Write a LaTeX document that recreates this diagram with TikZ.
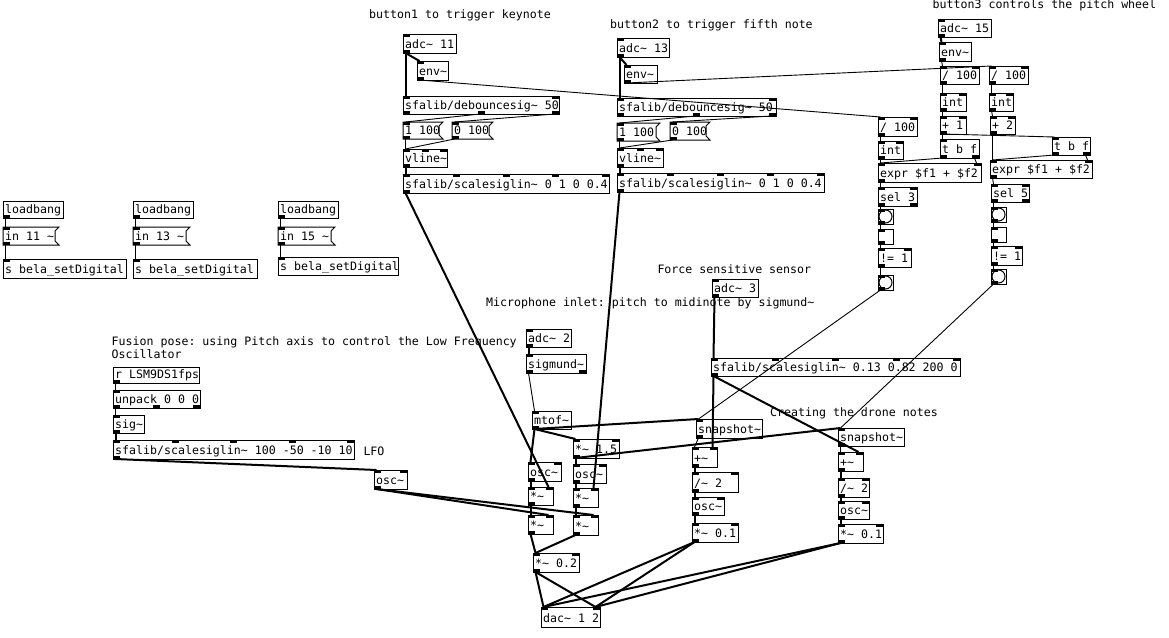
\documentclass[tikz,border=0pt]{standalone}
\usepackage{fontspec}
\setmonofont{DejaVu Sans Mono}
\newcommand\pdt{\textasciitilde{}}
\newcommand\pdfont{\ttfamily\fontsize{11.6}{12}\selectfont}
\tikzset{
  box/.style={draw=black, line width=1pt},
  txt/.style={inner sep=0pt, anchor=base west, font=\pdfont, text=black},
  sig/.style={line width=2pt, draw=black},
  ctl/.style={line width=0.9pt, draw=black},
}
% one iolet
\newcommand\pdonei[5]{% name, x, y, i/o, k
  \if#4i
    \fill (#2,#3) rectangle ++(7,3);
    \coordinate (#1-i#5) at (#2+2.5,#3);
  \else
    \fill (#2,#3) rectangle ++(7,-3);
    \coordinate (#1-o#5) at (#2+2.5,#3);
  \fi
}
% row of iolets
\newcommand\pdiol[6]{% name, x1, x2, y, n, i/o
  \ifnum#5=1
    \pdonei{#1}{#2}{#4}{#6}{1}%
  \else\ifnum#5>1
    \foreach \k in {1,...,#5}{%
      \pgfmathsetmacro\xx{#2+(\k-1)*(#3-#2-7)/(#5-1)}%
      \pdonei{#1}{\xx}{#4}{#6}{\k}%
    }%
  \fi\fi
}
\newcommand\pdobj[8]{% name x1 y1 x2 y2 text nin nout
  \draw[box] (#2,#3) rectangle (#4,#5);
  \node[txt] (#1) at (#2+2,#5-4.8) {#6};
  \pdiol{#1}{#2}{#4}{#3}{#7}{i}%
  \pdiol{#1}{#2}{#4}{#5}{#8}{o}%
}
\newcommand\pdmsg[6]{% name x1 y1 x2 y2 text
  \draw[box] (#2,#3) -- (#4,#3) -- (#4-4,#3+4) -- (#4-4,#5-4) -- (#4,#5) -- (#2,#5) -- cycle;
  \node[txt] (#1) at (#2+2,#5-4.8) {#6};
  \pdiol{#1}{#2}{#4}{#3}{1}{i}%
  \pdiol{#1}{#2}{#4}{#5}{1}{o}%
}
\newcommand\pdbng[4]{% name x y y+15
  \draw[box] (#2,#3) rectangle (#2+15,#4);
  \draw[box] (#2+7.5,#3+7.5) circle[radius=6.5pt];
  \pdiol{#1}{#2}{#2+15}{#3}{1}{i}%
  \pdiol{#1}{#2}{#2+15}{#4}{1}{o}%
}
\newcommand\pdtgl[4]{% name x y y+15
  \draw[box] (#2,#3) rectangle (#2+15,#4);
  \pdiol{#1}{#2}{#2+15}{#3}{1}{i}%
  \pdiol{#1}{#2}{#2+15}{#4}{1}{o}%
}
\begin{document}
\begin{tikzpicture}[x=1pt,y=-1pt]
\fill[white] (0,0) rectangle (1169,637);
\useasboundingbox (0,0) rectangle (1169,637);

% ---------- comments ----------
\node[txt] (c1) at (369,18.5) {button1 to trigger keynote};
\node[txt] (c2) at (610,28.3) {button2 to trigger fifth note};
\node[txt] (c3) at (932.5,9) {button3 controls the pitch wheel};
\node[txt] (c4) at (657.3,273.5) {Force sensitive sensor};
\node[txt] (c5) at (486,306.5) {Microphone inlet: pitch to midinote by sigmund\pdt};
\node[txt] (c6) at (111.5,345.5) {Fusion pose: using Pitch axis to control the Low Frequency};
\node[txt] (c7) at (111.5,358) {Oscillator};
\node[txt] (c8) at (363.3,455.5) {LFO};
\node[txt] (c9) at (770,416) {Creating the drone notes};

% ---------- button 1 ----------
\pdobj{adcA}{403}{34}{456}{53}{adc\pdt{} 11}{1}{1}
\pdobj{envA}{417}{61}{448}{80}{env\pdt}{1}{1}
\pdobj{debA}{403}{96}{559}{114}{sfalib/debouncesig\pdt{} 50}{2}{3}
\pdmsg{msgA1}{403}{122}{443}{139}{1 100}
\pdmsg{msgA0}{452}{122}{493}{139}{0 100}
\pdobj{vlineA}{403}{149}{447}{167}{vline\pdt}{3}{1}
\pdobj{sclA}{403}{174}{609}{193}{sfalib/scalesiglin\pdt{} 0 1 0 0.4}{5}{1}

% ---------- button 2 ----------
\pdobj{adcB}{617}{38}{669}{57}{adc\pdt{} 13}{1}{1}
\pdobj{envB}{624}{65}{657}{83}{env\pdt}{1}{1}
\pdobj{debB}{617}{98}{776}{116}{sfalib/debouncesig\pdt{} 50}{2}{3}
\pdmsg{msgB1}{617}{123}{660}{141}{1 100}
\pdmsg{msgB0}{670}{122}{710}{140}{0 100}
\pdobj{vlineB}{617}{148}{663}{167}{vline\pdt}{3}{1}
\pdobj{sclB}{617}{173}{824}{192}{sfalib/scalesiglin\pdt{} 0 1 0 0.4}{5}{1}

% ---------- button 3 ----------
\pdobj{adcC}{938}{19}{991}{37}{adc\pdt{} 15}{1}{1}
\pdobj{envC}{939}{42}{971}{61}{env\pdt}{1}{1}
\pdobj{divA}{940}{66}{979}{84}{/ 100}{2}{1}
\pdobj{divB}{989}{66}{1028}{84}{/ 100}{2}{1}
\pdobj{intA}{940}{93}{966}{111}{int}{2}{1}
\pdobj{intB}{989}{93}{1013}{111}{int}{2}{1}
\pdobj{addA}{940}{116}{966}{134}{+ 1}{2}{1}
\pdobj{addB}{990}{116}{1015}{134}{+ 2}{2}{1}
\pdobj{tbfA}{940}{139}{979}{158}{t b f}{1}{2}
\pdobj{tbfB}{1052}{137}{1090}{155}{t b f}{1}{2}
\pdobj{divC}{878}{117}{917}{136}{/ 100}{2}{1}
\pdobj{intC}{878}{141}{903}{159}{int}{2}{1}
\pdobj{exprA}{878}{163}{981}{182}{expr \$f1 + \$f2}{2}{1}
\pdobj{exprB}{990}{160}{1092}{178}{expr \$f1 + \$f2}{2}{1}
\pdobj{selA}{878}{187}{917}{206}{sel 3}{2}{2}
\pdobj{selB}{991}{184}{1029}{202}{sel 5}{2}{2}
\pdbng{bngA}{878}{209}{224}
\pdtgl{tglA}{878}{229}{244}
\pdobj{neA}{878}{248}{911}{267}{!= 1}{2}{1}
\pdbng{bngA2}{878}{275}{290}
\pdbng{bngB}{991}{207}{222}
\pdtgl{tglB}{991}{227}{242}
\pdobj{neB}{991}{246}{1022}{265}{!= 1}{2}{1}
\pdbng{bngB2}{991}{269}{284}

% ---------- loadbangs ----------
\pdobj{lb1}{3}{201}{63}{218}{loadbang}{0}{1}
\pdmsg{in1}{3}{227}{59}{245}{in 11 \pdt}
\pdobj{s1}{3}{259}{126}{278}{s bela\_setDigital}{1}{0}
\pdobj{lb2}{133}{201}{193}{218}{loadbang}{0}{1}
\pdmsg{in2}{133}{227}{190}{245}{in 13 \pdt}
\pdobj{s2}{133}{259}{257}{278}{s bela\_setDigital}{1}{0}
\pdobj{lb3}{278}{201}{338}{218}{loadbang}{0}{1}
\pdmsg{in3}{278}{227}{335}{245}{in 15 \pdt}
\pdobj{s3}{278}{257}{398}{275}{s bela\_setDigital}{1}{0}

% ---------- LFO ----------
\pdobj{rL}{113}{367}{199}{383}{r LSM9DS1fps}{0}{1}
\pdobj{unp}{113}{390}{200}{408}{unpack 0 0 0}{1}{3}
\pdobj{sig}{113}{415}{144}{433}{sig\pdt}{1}{1}
\pdobj{sclL}{113}{440}{354}{459}{sfalib/scalesiglin\pdt{} 100 -50 -10 10}{5}{1}
\pdobj{oscL}{374}{470}{407}{489}{osc\pdt}{2}{1}

% ---------- microphone ----------
\pdobj{adc2}{526}{329}{571}{347}{adc\pdt{} 2}{1}{1}
\pdobj{sigm}{526}{354}{586}{373}{sigmund\pdt}{1}{2}
\pdobj{mtof}{532}{411}{571}{429}{mtof\pdt}{1}{1}
\pdobj{mul15}{573}{439}{619}{458}{*\pdt{} 1.5}{2}{1}
\pdobj{osc1}{528}{462}{561}{481}{osc\pdt}{2}{1}
\pdobj{osc2}{573}{464}{606}{483}{osc\pdt}{2}{1}
\pdobj{m1}{528}{487}{553}{505}{*\pdt}{2}{1}
\pdobj{m2}{573}{488}{598}{507}{*\pdt}{2}{1}
\pdobj{m3}{528}{515}{553}{534}{*\pdt}{2}{1}
\pdobj{m4}{573}{515}{598}{535}{*\pdt}{2}{1}
\pdobj{m02}{533}{553}{579}{572}{*\pdt{} 0.2}{2}{1}
\pdobj{dac}{541}{607}{600}{627}{dac\pdt{} 1 2}{2}{0}

% ---------- force sensor ----------
\pdobj{adc3}{712}{279}{758}{297}{adc\pdt{} 3}{1}{1}
\pdobj{sclF}{711}{358}{960}{376}{sfalib/scalesiglin\pdt{} 0.13 0.82 200 0}{5}{1}
\pdobj{snap1}{696}{419}{762}{438}{snapshot\pdt}{1}{1}
\pdobj{snap2}{838}{428}{904}{446}{snapshot\pdt}{1}{1}
\pdobj{add1}{692}{447}{717}{467}{+\pdt}{2}{1}
\pdobj{add2}{838}{452}{863}{471}{+\pdt}{2}{1}
\pdobj{div1}{692}{472}{738}{492}{/\pdt{} 2}{2}{1}
\pdobj{div2}{838}{478}{869}{497}{/\pdt{} 2}{2}{1}
\pdobj{osc3}{692}{497}{724}{515}{osc\pdt}{2}{1}
\pdobj{osc4}{838}{501}{869}{519}{osc\pdt}{2}{1}
\pdobj{mul1}{692}{523}{738}{542}{*\pdt{} 0.1}{2}{1}
\pdobj{mul2}{838}{524}{883}{543}{*\pdt{} 0.1}{2}{1}

% ---------- signal connections ----------
\draw[sig] (adcA-o1) -- (debA-i1);
\draw[sig] (adcA-o1) -- (envA-i1);
\draw[sig] (vlineA-o1) -- (sclA-i1);
\draw[sig] (sclA-o1) -- (m1-i2);
\draw[sig] (adcB-o1) -- (debB-i1);
\draw[sig] (adcB-o1) -- (envB-i1);
\draw[sig] (vlineB-o1) -- (sclB-i1);
\draw[sig] (sclB-o1) -- (m2-i2);
\draw[sig] (adcC-o1) -- (envC-i1);
\draw[sig] (sig-o1) -- (sclL-i1);
\draw[sig] (sclL-o1) -- (oscL-i1);
\draw[sig] (oscL-o1) -- (m3-i2);
\draw[sig] (oscL-o1) -- (m4-i2);
\draw[sig] (adc2-o1) -- (sigm-i1);
\draw[sig] (mtof-o1) -- (osc1-i1);
\draw[sig] (mtof-o1) -- (mul15-i1);
\draw[sig] (mtof-o1) -- (snap1-i1);
\draw[sig] (mul15-o1) -- (osc2-i1);
\draw[sig] (mul15-o1) -- (snap2-i1);
\draw[sig] (osc1-o1) -- (m1-i1);
\draw[sig] (m1-o1) -- (m3-i1);
\draw[sig] (osc2-o1) -- (m2-i1);
\draw[sig] (m2-o1) -- (m4-i1);
\draw[sig] (m3-o1) -- (m02-i1);
\draw[sig] (m4-o1) -- (m02-i1);
\draw[sig] (m02-o1) -- (dac-i1);
\draw[sig] (m02-o1) -- (dac-i2);
\draw[sig] (adc3-o1) -- (sclF-i1);
\draw[sig] (sclF-o1) -- (add1-i2);
\draw[sig] (sclF-o1) -- (add2-i2);
\draw[sig] (add1-o1) -- (div1-i1);
\draw[sig] (div1-o1) -- (osc3-i1);
\draw[sig] (osc3-o1) -- (mul1-i1);
\draw[sig] (add2-o1) -- (div2-i1);
\draw[sig] (div2-o1) -- (osc4-i1);
\draw[sig] (osc4-o1) -- (mul2-i1);
\draw[sig] (mul1-o1) -- (dac-i1);
\draw[sig] (mul1-o1) -- (dac-i2);
\draw[sig] (mul2-o1) -- (dac-i1);
\draw[sig] (mul2-o1) -- (dac-i2);

% ---------- control connections ----------
\draw[ctl] (envA-o1) -- (divC-i1);
\draw[ctl] (envB-o1) -- (divB-i1);
\draw[ctl] (envC-o1) -- (divA-i1);
\draw[ctl] (debA-o2) -- (msgA1-i1);
\draw[ctl] (debA-o3) -- (msgA0-i1);
\draw[ctl] (msgA1-o1) -- (vlineA-i1);
\draw[ctl] (msgA0-o1) -- (vlineA-i1);
\draw[ctl] (debB-o2) -- (msgB1-i1);
\draw[ctl] (debB-o3) -- (msgB0-i1);
\draw[ctl] (msgB1-o1) -- (vlineB-i1);
\draw[ctl] (msgB0-o1) -- (vlineB-i1);
\draw[ctl] (divA-o1) -- (intA-i1);
\draw[ctl] (intA-o1) -- (addA-i1);
\draw[ctl] (addA-o1) -- (tbfA-i1);
\draw[ctl] (addA-o1) -- (tbfB-i1);
\draw[ctl] (divB-o1) -- (intB-i1);
\draw[ctl] (intB-o1) -- (addB-i1);
\draw[ctl] (addB-o1) -- (exprB-i1);
\draw[ctl] (tbfA-o1) -- (exprA-i1);
\draw[ctl] (tbfA-o2) -- (exprA-i2);
\draw[ctl] (tbfB-o1) -- (exprB-i1);
\draw[ctl] (tbfB-o2) -- (exprB-i2);
\draw[ctl] (divC-o1) -- (intC-i1);
\draw[ctl] (intC-o1) -- (exprA-i1);
\draw[ctl] (exprA-o1) -- (selA-i1);
\draw[ctl] (selA-o1) -- (bngA-i1);
\draw[ctl] (bngA-o1) -- (tglA-i1);
\draw[ctl] (tglA-o1) -- (neA-i1);
\draw[ctl] (neA-o1) -- (bngA2-i1);
\draw[ctl] (bngA2-o1) -- (snap1-i1);
\draw[ctl] (exprB-o1) -- (selB-i1);
\draw[ctl] (selB-o1) -- (bngB-i1);
\draw[ctl] (bngB-o1) -- (tglB-i1);
\draw[ctl] (tglB-o1) -- (neB-i1);
\draw[ctl] (neB-o1) -- (bngB2-i1);
\draw[ctl] (bngB2-o1) -- (snap2-i1);
\draw[ctl] (lb1-o1) -- (in1-i1);
\draw[ctl] (in1-o1) -- (s1-i1);
\draw[ctl] (lb2-o1) -- (in2-i1);
\draw[ctl] (in2-o1) -- (s2-i1);
\draw[ctl] (lb3-o1) -- (in3-i1);
\draw[ctl] (in3-o1) -- (s3-i1);
\draw[ctl] (rL-o1) -- (unp-i1);
\draw[ctl] (unp-o1) -- (sig-i1);
\draw[ctl] (sigm-o1) -- (mtof-i1);
\draw[ctl] (snap1-o1) -- (add1-i1);
\draw[ctl] (snap2-o1) -- (add2-i1);
\end{tikzpicture}
\end{document}
